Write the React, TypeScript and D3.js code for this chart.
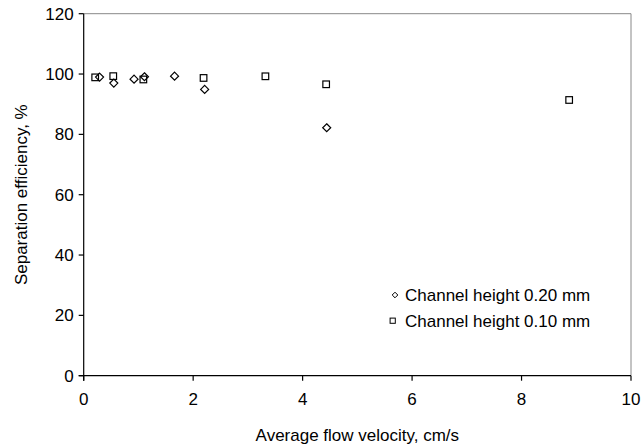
import React from "react";
import * as d3 from "d3";

const series1X = [0.29, 0.55, 0.92, 1.11, 1.66, 2.21, 4.44];
const series1Y = [99.0, 97.0, 98.3, 99.1, 99.3, 94.9, 82.2];
const series2X = [0.21, 0.54, 1.09, 2.19, 3.32, 4.43, 8.87];
const series2Y = [98.9, 99.3, 98.2, 98.7, 99.25, 96.6, 91.4];
const xTicks = [0, 2, 4, 6, 8, 10];
const yTicks = [0, 20, 40, 60, 80, 100, 120];
const legendLabels = ["Channel height 0.20 mm", "Channel height 0.10 mm"];
const xTitle = "Average flow velocity, cm/s";
const yTitle = "Separation efficiency, %";

const W = 642, H = 446;
const L = 83.7, R = 631, T = 13.7, B = 375.7;
const FONT = "'Liberation Sans', Arial, sans-serif";
const FS = 17;

export default function App() {
  const x = d3.scaleLinear().domain([0, 10]).range([L, R]);
  const y = d3.scaleLinear().domain([0, 120]).range([B, T]);
  const diamond = (cx: number, cy: number, r: number) =>
    `M${cx},${cy - r}L${cx + r},${cy}L${cx},${cy + r}L${cx - r},${cy}Z`;
  return (
    <svg width={W} height={H} style={{ position: "absolute", left: 0, top: 0, background: "#fff" }}>
      <rect x={0} y={0} width={W} height={H} fill="#fff" />
      {/* frame */}
      <line x1={L} x2={R} y1={T} y2={T} stroke="#888" strokeWidth={1} />
      <line x1={R} x2={R} y1={T} y2={B} stroke="#888" strokeWidth={1} />
      <line x1={L} x2={L} y1={T} y2={B + 5} stroke="#000" strokeWidth={1.2} />
      <line x1={L - 5} x2={R} y1={B} y2={B} stroke="#000" strokeWidth={1.2} />
      {yTicks.map((t) => (
        <g key={"y" + t}>
          <line x1={L - 5} x2={L} y1={y(t)} y2={y(t)} stroke="#000" strokeWidth={1.2} />
          <text x={L - 10} y={y(t)} dy="0.35em" textAnchor="end" fontFamily={FONT} fontSize={FS} fill="#000">
            {t}
          </text>
        </g>
      ))}
      {xTicks.map((t) => (
        <g key={"x" + t}>
          <line x1={x(t)} x2={x(t)} y1={B} y2={B + 5} stroke="#000" strokeWidth={1.2} />
          <text x={x(t)} y={B + 29} textAnchor="middle" fontFamily={FONT} fontSize={FS} fill="#000">
            {t}
          </text>
        </g>
      ))}
      <text x={(L + R) / 2} y={441} textAnchor="middle" fontFamily={FONT} fontSize={FS} fill="#000">
        {xTitle}
      </text>
      <text
        transform={`translate(27,${(T + B) / 2}) rotate(-90)`}
        textAnchor="middle"
        fontFamily={FONT}
        fontSize={FS}
        fill="#000"
      >
        {yTitle}
      </text>
      {series2X.map((v, i) => (
        <rect key={"s" + i} x={x(v) - 3.3} y={y(series2Y[i]) - 3.3} width={6.6} height={6.6}
          fill="none" stroke="#000" strokeWidth={1.2} />
      ))}
      {series1X.map((v, i) => (
        <path key={"d" + i} d={diamond(x(v), y(series1Y[i]), 4)} fill="none" stroke="#000" strokeWidth={1.2} />
      ))}
      {/* legend */}
      <path d={diamond(395, 295, 2.8)} fill="none" stroke="#000" strokeWidth={1} />
      <text x={405} y={300.5} fontFamily={FONT} fontSize={FS} fill="#000">{legendLabels[0]}</text>
      <rect x={392.7 - 2.6} y={320.7 - 2.6} width={5.2} height={5.2} fill="none" stroke="#000" strokeWidth={1} />
      <text x={405} y={326.5} fontFamily={FONT} fontSize={FS} fill="#000">{legendLabels[1]}</text>
    </svg>
  );
}
